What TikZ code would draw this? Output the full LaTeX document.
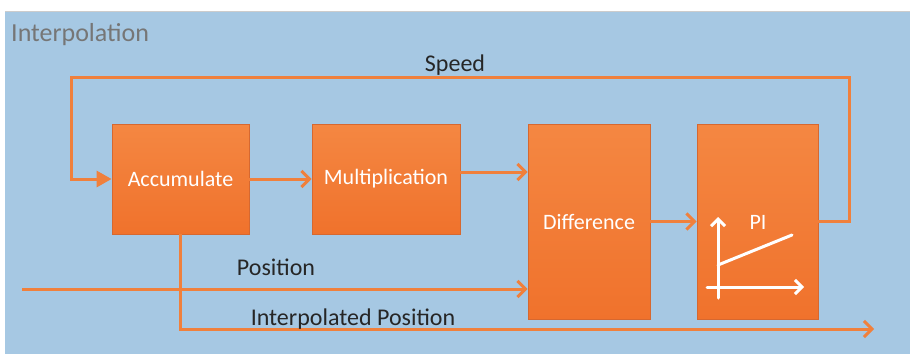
\documentclass[tikz,border=0pt]{standalone}
\usepackage{fontspec}
\setmainfont{Carlito}
\usepackage{xcolor}
\usetikzlibrary{arrows.meta}
\definecolor{panelblue}{RGB}{166,200,227}
\definecolor{wireorange}{RGB}{240,128,60}
\definecolor{boxtop}{RGB}{244,135,66}
\definecolor{boxbottom}{RGB}{240,114,44}
\definecolor{boxedge}{RGB}{214,104,48}
\definecolor{titlegray}{RGB}{118,118,118}
\definecolor{labelgray}{RGB}{38,38,38}

\begin{document}
\begin{tikzpicture}[x=1pt,y=-1pt,
    block/.style={draw=boxedge,line width=0.8pt,top color=boxtop,bottom color=boxbottom,
      text=white,font=\fontsize{22}{26}\selectfont,inner sep=0pt},
    wire/.style={wireorange,line width=3pt},
    arr/.style={wire,-{Straight Barb[length=8pt,width=16pt,line width=3pt]}},
    feed/.style={wire,-{Triangle[length=15pt,width=16pt]}},
    tag/.style={text=labelgray,font=\fontsize{24}{28}\selectfont,inner sep=0pt}]
  \useasboundingbox (0,0) rectangle (910,354);
  \fill[panelblue] (5,11) rectangle (910,354);
  \draw[black!20,line width=1pt] (5,11) -- (910,11);
  \node[anchor=west,text=titlegray,font=\fontsize{26}{30}\selectfont,inner sep=0pt] (title) at (11,35) {Interpolation};

  \node[block,minimum width=137pt,minimum height=110pt] (acc) at (180.5,179) {Accumulate};
  \node[block,minimum width=148pt,minimum height=110pt] (mul) at (386,179) {Multiplication};
  \node[block,minimum width=122pt,minimum height=195pt] (diff) at (589,221.5) {Difference};
  \node[block,minimum width=121pt,minimum height=195pt] (pi) at (757.5,221.5) {};
  \node[text=white,font=\fontsize{22}{26}\selectfont,inner sep=0pt] (pitext) at (758,222) {PI};

  % small PI response sketch
  \coordinate (ybot) at (718,298);
  \coordinate (ytop) at (718,217);
  \coordinate (xl) at (707,287);
  \coordinate (xr) at (804,287);
  \draw[white,line width=3pt,line cap=round,-{Straight Barb[length=7pt,width=14pt,line width=3pt]}] (ybot) -- (ytop);
  \draw[white,line width=3pt,line cap=round,-{Straight Barb[length=7pt,width=14pt,line width=3pt]}] (xl) -- (xr);
  \draw[white,line width=3pt,line cap=round] (718,265) -- (792,235);

  \coordinate (sr) at (849,77);
  \coordinate (sl) at (71,77);
  \coordinate (pin) at (22,289);
  \coordinate (pout) at (874,329);

  \draw[arr] (acc.east) -- (mul.west);
  \draw[arr] ([yshift=7pt]mul.east) -- ([yshift=7pt]mul.east -| diff.west);
  \draw[arr] (diff.east) -- (pi.west);
  \draw[feed] (pi.east) -| (sr) -- (sl) |- (acc.west);
  \draw[arr] (pin) -- (pin -| diff.west);
  \draw[arr] (acc.south) |- (pout);

  \node[tag] (speed) at (455,65) {Speed};
  \node[tag] (pos) at (276,267) {Position};
  \node[tag] (ipos) at (353,319) {Interpolated Position};
\end{tikzpicture}
\end{document}
